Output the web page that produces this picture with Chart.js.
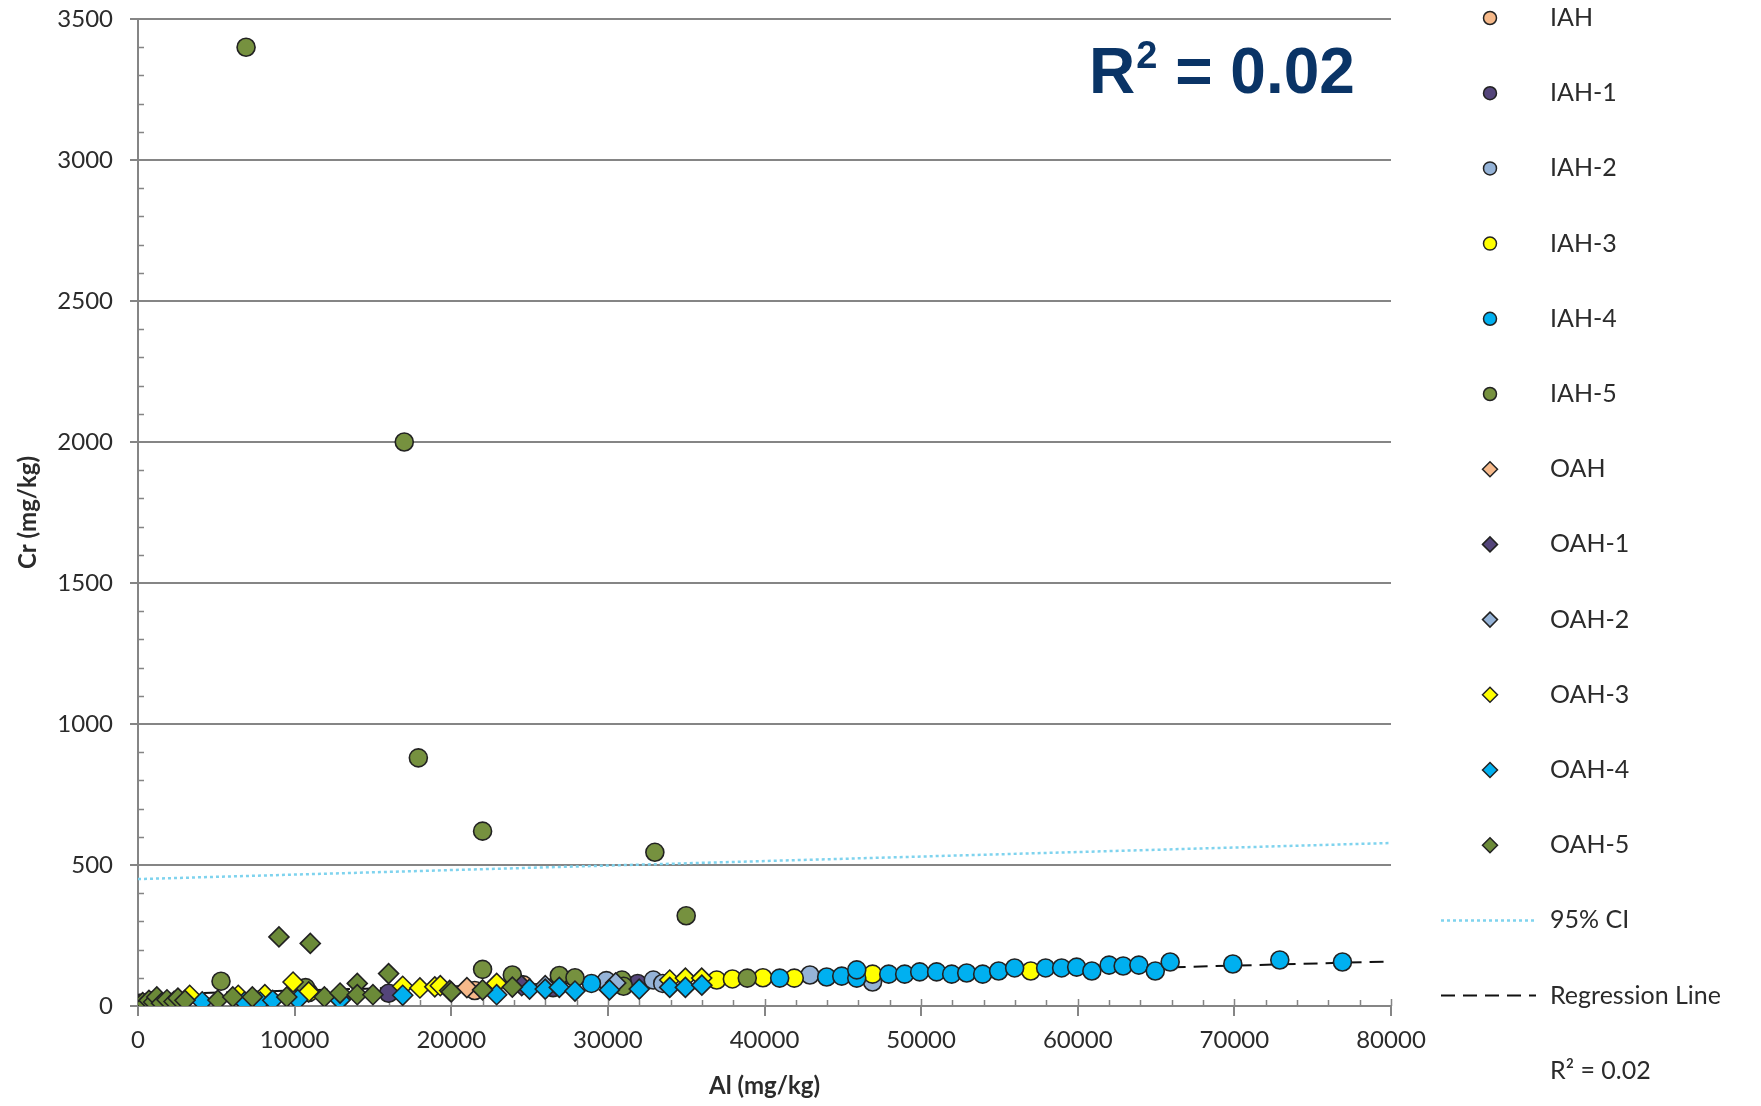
<!DOCTYPE html>
<html>
<head>
<meta charset="utf-8">
<title>Cr vs Al</title>
<script src="https://cdn.jsdelivr.net/npm/chart.js@4.4.1/dist/chart.umd.min.js"></script>
<style>
  html, body { margin: 0; padding: 0; background: #fff; }
  #wrap { width: 1761px; height: 1106px; position: relative; }
</style>
</head>
<body>
<div id="wrap"><canvas id="crChart"></canvas></div>
<script>
// Al (mg/kg) vs Cr (mg/kg), one [al, cr] pair per sample
const iah  = [[21500, 55], [24600, 75]];
const iah1 = [[16000, 45], [26500, 65], [31900, 80]];
const iah2 = [[29900, 90], [32900, 92], [33500, 80], [42900, 110], [46900, 85]];
const iah3 = [[10900, 48], [36950, 92], [37950, 96], [39900, 100], [41900, 99], [46900, 113], [57000, 124]];
const iah4 = [[28950, 80], [40970, 99], [43970, 103], [44930, 106], [45890, 99], [45890, 128], [47930, 113],
              [48950, 113], [49910, 121], [50990, 121], [51950, 113], [52910, 117], [53930, 113], [54950, 124],
              [55970, 135], [57950, 135], [58970, 135], [59930, 138], [60900, 124], [62000, 145], [62900, 142],
              [63900, 145], [64950, 124], [65900, 156], [69900, 149], [72900, 163], [76900, 156]];
const iah5 = [[6900, 3400], [17000, 2000], [17900, 880], [22000, 620], [33000, 545], [35000, 320],
              [300, 10], [900, 18], [5300, 88], [10700, 65], [22000, 130], [23900, 110], [26900, 108],
              [27900, 100], [30900, 92], [31000, 70], [38900, 99]];
const oah  = [[21000, 65]];
const oah1 = [[13000, 28], [24500, 72]];
const oah2 = [[26000, 72], [30500, 82]];
const oah3 = [[3300, 38], [6400, 38], [8100, 40], [9900, 85], [10900, 50], [16900, 70], [18000, 64],
              [18950, 68], [19300, 72], [22900, 80], [33950, 92], [34950, 99], [35990, 99]];
const oah4 = [[4100, 15], [6800, 14], [7800, 14], [8600, 20], [10200, 22], [12900, 21], [16900, 38],
              [22900, 40], [25000, 60], [26000, 60], [26900, 66], [27900, 53], [30100, 57], [32000, 60],
              [33950, 66], [34950, 66], [36000, 74]];
const oah5 = [[100, 5], [300, 12], [500, 8], [700, 20], [1000, 14], [1200, 32], [1500, 10], [1850, 22],
              [2300, 16], [2550, 28], [3000, 20], [5100, 21], [6050, 32], [7300, 32], [9000, 245],
              [9500, 32], [11000, 222], [11900, 32], [12900, 46], [14000, 80], [14000, 40], [15000, 40],
              [16000, 115], [19900, 55], [20000, 50], [22000, 57], [23900, 67]];

// fitted line and upper 95% confidence bound
const regressionLine = [[0, 40], [80000, 158]];
const ciUpper = [[0, 450], [80000, 578]];
const rSquared = 0.02;

const xMax = 80000, xStep = 10000, xMinorStep = 2000;
const yMax = 3500, yStep = 500, yMinorStep = 100;

const axisGrey = '#858585';
const textColor = '#2b2b2b';

function toXY(pairs) {
  return pairs.map(p => ({x: p[0], y: p[1]}));
}

function markerSet(label, pairs, style, fill, order) {
  return {
    label: label,
    data: toXY(pairs),
    pointStyle: style,
    backgroundColor: fill,
    borderColor: '#222',
    borderWidth: 1.6,
    pointRadius: style === 'circle' ? 9 : 10,
    showLine: false,
    order: order
  };
}

const datasets = [
  markerSet('IAH',   iah,  'circle', '#f6b98a', 12),
  markerSet('IAH-1', iah1, 'circle', '#54457a', 11),
  markerSet('IAH-2', iah2, 'circle', '#95b3d7', 10),
  markerSet('IAH-3', iah3, 'circle', '#ffff00', 9),
  markerSet('IAH-4', iah4, 'circle', '#00b0f0', 8),
  markerSet('IAH-5', iah5, 'circle', '#76913f', 7),
  markerSet('OAH',   oah,  'rectRot', '#f6b98a', 6),
  markerSet('OAH-1', oah1, 'rectRot', '#54457a', 5),
  markerSet('OAH-2', oah2, 'rectRot', '#95b3d7', 4),
  markerSet('OAH-3', oah3, 'rectRot', '#ffff00', 3),
  markerSet('OAH-4', oah4, 'rectRot', '#00b0f0', 2),
  markerSet('OAH-5', oah5, 'rectRot', '#6b8a38', 1),
  {
    label: '95% CI',
    data: toXY(ciUpper),
    showLine: true,
    borderColor: '#7fd3ee',
    borderWidth: 2.5,
    borderDash: [3, 3],
    pointRadius: 0,
    order: 20
  },
  {
    label: 'Regression Line',
    data: toXY(regressionLine),
    showLine: true,
    borderColor: '#111',
    borderWidth: 2,
    borderDash: [14, 8],
    pointRadius: 0,
    order: 19
  }
];

// short inside ticks between the labelled ones
const minorTicks = {
  id: 'minorTicks',
  beforeDatasetsDraw(chart) {
    const {ctx, scales: {x, y}} = chart;
    ctx.save();
    ctx.strokeStyle = axisGrey;
    ctx.lineWidth = 1.5;
    ctx.beginPath();
    for (let v = yMinorStep; v < yMax; v += yMinorStep) {
      if (v % yStep === 0) continue;
      const py = Math.round(y.getPixelForValue(v)) + 0.5;
      ctx.moveTo(x.left, py);
      ctx.lineTo(x.left + 6, py);
    }
    for (let v = xMinorStep; v <= xMax; v += xMinorStep) {
      const px = Math.round(x.getPixelForValue(v)) + 0.5;
      const len = v % xStep === 0 ? 7 : 6;
      ctx.moveTo(px, y.bottom);
      ctx.lineTo(px, y.bottom - len);
    }
    ctx.stroke();
    ctx.restore();
  }
};

// legend column on the right plus the big R² label in the plot
const sideLegend = {
  id: 'sideLegend',
  afterDraw(chart) {
    const ctx = chart.ctx;
    const top = 18, step = 75.2, markX = 1490, textX = 1550;
    ctx.save();
    ctx.textBaseline = 'middle';
    ctx.textAlign = 'left';
    ctx.font = '25px Lato';
    chart.data.datasets.forEach((ds, i) => {
      const cy = top + i * step;
      if (ds.showLine) {
        ctx.save();
        ctx.strokeStyle = ds.borderColor;
        ctx.lineWidth = ds.borderWidth;
        ctx.setLineDash(ds.borderDash);
        ctx.beginPath();
        ctx.moveTo(1441, cy);
        ctx.lineTo(1536, cy);
        ctx.stroke();
        ctx.restore();
      } else {
        ctx.fillStyle = ds.backgroundColor;
        ctx.strokeStyle = ds.borderColor;
        ctx.lineWidth = 1.5;
        Chart.helpers.drawPoint(ctx, {
          pointStyle: ds.pointStyle,
          radius: ds.pointStyle === 'circle' ? 6.5 : 7.5,
          rotation: 0,
          borderWidth: 1.5
        }, markX, cy);
      }
      ctx.fillStyle = textColor;
      ctx.fillText(ds.label, textX, cy);
    });
    ctx.fillStyle = textColor;
    ctx.fillText('R\u00b2 = ' + rSquared.toFixed(2), textX, top + chart.data.datasets.length * step);

    // R² annotation
    let px = 1089;
    const base = 93;
    ctx.textBaseline = 'alphabetic';
    ctx.fillStyle = '#0a3466';
    ctx.font = 'bold 64px "Liberation Sans"';
    ctx.fillText('R', px, base);
    px += ctx.measureText('R').width + 1;
    ctx.font = 'bold 38px "Liberation Sans"';
    ctx.fillText('2', px, base - 25);
    px += ctx.measureText('2').width;
    ctx.font = 'bold 64px "Liberation Sans"';
    ctx.fillText(' = ' + rSquared.toFixed(2), px, base);
    ctx.restore();
  }
};

const ctx = document.getElementById('crChart').getContext('2d');
const chart = new Chart(ctx, {
  type: 'scatter',
  data: { datasets: datasets },
  plugins: [minorTicks, sideLegend],
  options: {
    responsive: true,
    maintainAspectRatio: false,
    animation: false,
    layout: { padding: { top: 19, right: 370, left: 0, bottom: 0 } },
    plugins: {
      legend: { display: false },
      tooltip: { enabled: false }
    },
    scales: {
      x: {
        type: 'linear',
        min: 0,
        max: xMax,
        afterFit: s => { s.height = 100; s.paddingLeft = 0; s.paddingRight = 0; },
        ticks: {
          stepSize: xStep,
          color: textColor,
          padding: 10,
          maxRotation: 0,
          callback: v => String(v),
          font: { family: 'Lato', size: 24 }
        },
        grid: {
          drawOnChartArea: false,
          drawTicks: true,
          tickLength: 10,
          color: axisGrey,
          lineWidth: 2
        },
        border: { color: axisGrey, width: 2 },
        title: {
          display: true,
          text: 'Al (mg/kg)',
          color: textColor,
          padding: { top: 0, bottom: 5 },
          font: { family: 'Lato', size: 24, weight: 'bold' }
        }
      },
      y: {
        min: 0,
        max: yMax,
        afterFit: s => { s.width = 138; s.paddingTop = 0; s.paddingBottom = 0; },
        ticks: {
          stepSize: yStep,
          color: textColor,
          padding: 17,
          callback: v => String(v),
          font: { family: 'Lato', size: 24 }
        },
        grid: {
          color: axisGrey,
          lineWidth: 2,
          tickLength: 8
        },
        border: { color: axisGrey, width: 2 },
        title: {
          display: true,
          text: 'Cr (mg/kg)',
          color: textColor,
          padding: { top: 14, bottom: 0 },
          font: { family: 'Lato', size: 24, weight: 'bold' }
        }
      }
    }
  }
});
</script>
</body>
</html>
